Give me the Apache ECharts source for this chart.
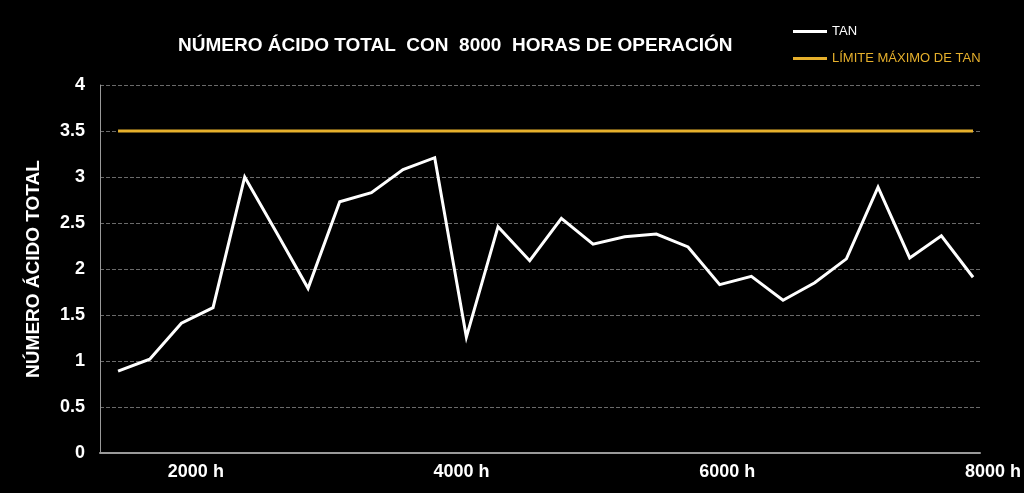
<!DOCTYPE html>
<html>
<head>
<meta charset="utf-8">
<script src="https://cdn.jsdelivr.net/npm/echarts@6/dist/echarts.min.js"></script>
<style>
    html, body { margin: 0; padding: 0; background: #000; }
    #chart { width: 1024px; height: 493px; }
</style>
</head>
<body>
<div id="chart"></div>
<script>
// valores
var tanValues = [0.89, 1.02, 1.41, 1.58, 3.0, 2.4, 1.79, 2.73, 2.83, 3.08,
    3.21, 1.26, 2.46, 2.09, 2.55, 2.27, 2.35, 2.38, 2.24, 1.83,
    1.92, 1.66, 1.85, 2.11, 2.89, 2.12, 2.36, 1.91];
var limitValue = 3.5;
var hourTicks = [2000, 4000, 6000, 8000];
var yTicks = [0, 0.5, 1, 1.5, 2, 2.5, 3, 3.5, 4];

var tanData = tanValues.map(function (v, i) { return [i, v]; });
var limitData = tanValues.map(function (v, i) { return [i, limitValue]; });

var gold = '#e6b02c';
var font = '"Liberation Sans", Arial, sans-serif';

var myChart = echarts.init(document.getElementById('chart'));
var option = {
    backgroundColor: '#000',
    animation: false,
    title: {
        text: 'NÚMERO ÁCIDO TOTAL  CON  8000  HORAS DE OPERACIÓN',
        left: 173,
        top: 31,
        textStyle: {
            color: '#fff',
            fontSize: 19,
            fontWeight: 'bold',
            fontFamily: font
        }
    },
    legend: {
        orient: 'vertical',
        left: 788,
        top: 20,
        icon: 'rect',
        itemWidth: 34,
        itemHeight: 3,
        itemGap: 14,
        textStyle: {
            fontSize: 13,
            fontFamily: font
        },
        data: [
            { name: 'TAN', textStyle: { color: '#fff' } },
            { name: 'LÍMITE MÁXIMO DE TAN', textStyle: { color: gold } }
        ]
    },
    grid: [{
        left: 100,
        right: 44,
        top: 85,
        bottom: 40
    }, {
        // solo para las etiquetas de horas
        left: 63,
        right: 28,
        top: 85,
        bottom: 40
    }],
    xAxis: [{
        type: 'value',
        gridIndex: 0,
        min: -0.57,
        max: 27.22,
        axisLine: {
            show: true,
            onZero: false,
            lineStyle: { color: '#9a9a9a', width: 2 }
        },
        axisTick: { show: false },
        axisLabel: { show: false },
        splitLine: { show: false }
    }, {
        type: 'value',
        gridIndex: 1,
        min: 1000,
        max: 8000,
        interval: 1000,
        axisLine: { show: false },
        axisTick: { show: false },
        splitLine: { show: false },
        axisLabel: {
            margin: 10,
            color: '#fff',
            fontSize: 18,
            fontWeight: 'bold',
            fontFamily: font,
            formatter: function (v) {
                return hourTicks.indexOf(v) >= 0 ? v + ' h' : '';
            }
        }
    }],
    yAxis: [{
        type: 'value',
        gridIndex: 0,
        min: yTicks[0],
        max: yTicks[yTicks.length - 1],
        interval: 0.5,
        name: 'NÚMERO ÁCIDO TOTAL',
        nameLocation: 'middle',
        nameRotate: 90,
        nameGap: 57,
        nameTextStyle: {
            color: '#fff',
            fontSize: 19,
            fontWeight: 'bold',
            fontFamily: font
        },
        axisLine: {
            show: true,
            onZero: false,
            lineStyle: { color: '#9a9a9a', width: 1 }
        },
        axisTick: { show: false },
        axisLabel: {
            margin: 15,
            color: '#fff',
            fontSize: 18,
            fontWeight: 'bold',
            fontFamily: font
        },
        splitLine: {
            show: true,
            lineStyle: { color: '#6a6a6a', type: 'dashed', width: 1 }
        }
    }, {
        type: 'value',
        gridIndex: 1,
        show: false
    }],
    series: [{
        name: 'LÍMITE MÁXIMO DE TAN',
        type: 'line',
        xAxisIndex: 0,
        yAxisIndex: 0,
        data: limitData,
        showSymbol: false,
        lineStyle: { color: gold, width: 3 },
        itemStyle: { color: gold }
    }, {
        name: 'TAN',
        type: 'line',
        xAxisIndex: 0,
        yAxisIndex: 0,
        data: tanData,
        showSymbol: false,
        lineStyle: { color: '#fff', width: 3, join: 'miter' },
        itemStyle: { color: '#fff' }
    }]
};
myChart.setOption(option);
window.addEventListener('resize', function () {
    myChart.resize();
});
</script>
</body>
</html>
